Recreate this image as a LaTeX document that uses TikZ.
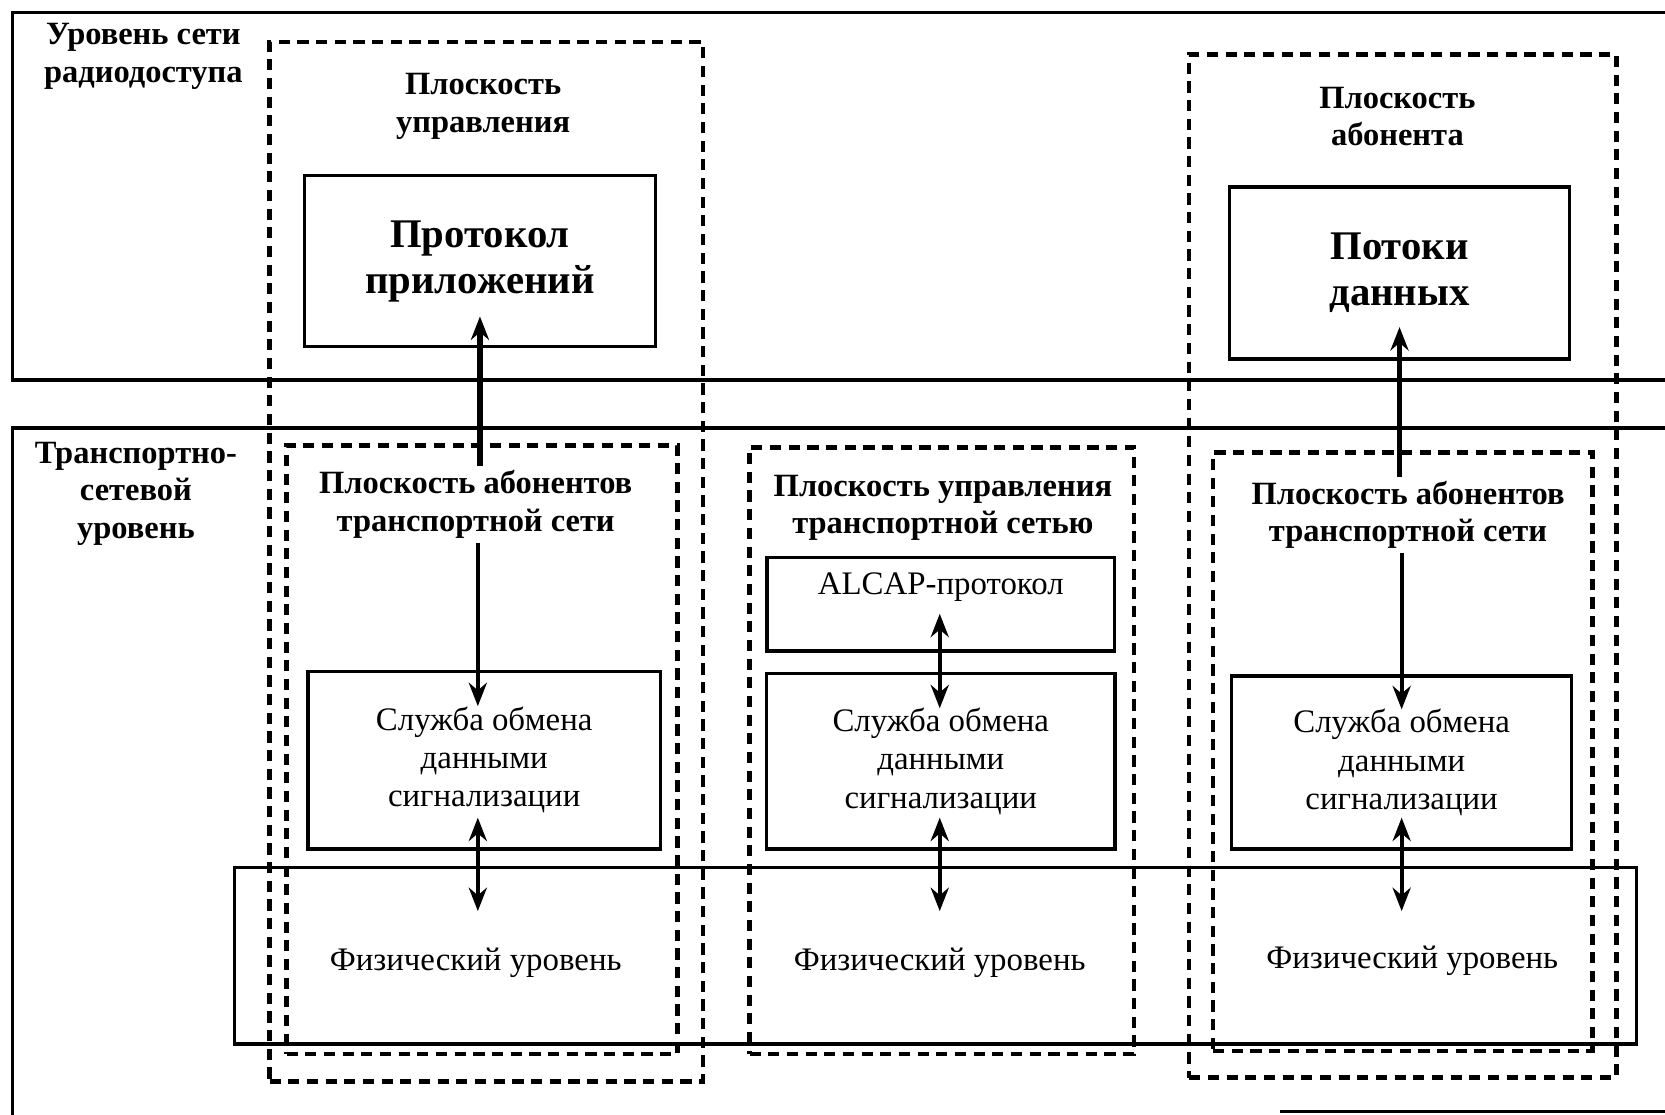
\documentclass[tikz,border=0pt]{standalone}
\usepackage{fontspec}
\setmainfont{Liberation Serif}
\usetikzlibrary{arrows.meta, positioning}

\tikzset{
  plane/.style={draw, line width=1.2pt, dash pattern=on 3pt off 2pt, inner sep=0pt},
  block/.style={draw, line width=0.9pt, inner sep=0pt, align=center,
    font=\fontsize{8.8}{10.2}\selectfont},
  bigblock/.style={block, font=\fontsize{10.9}{12.2}\selectfont\bfseries},
  title/.style={align=center, inner sep=1pt, font=\fontsize{8.7}{10}\selectfont\bfseries},
  plain/.style={align=center, inner sep=1pt, font=\fontsize{8.8}{10.2}\selectfont},
  tip/.tip={Stealth[length=2.2mm,width=1.7mm]},
  link/.style={line width=1.1pt, -tip},
  twoway/.style={line width=1.1pt, tip-tip},
}

\begin{document}
\begin{tikzpicture}[x=0.01cm, y=-0.01cm]
  \useasboundingbox (0,0) rectangle (1568,1050);

  % levels
  \draw[line width=0.9pt] (1568,12) -| (12,358) -- (1568,358);
  \draw[line width=0.9pt] (1568,403) -| (12,1050);
  \draw[line width=0.9pt] (1205,1047) -- (1568,1047);
  \node[title] (radio)     at (135,53)  {Уровень сети\\радиодоступа};
  \node[title] (transport) at (128,465) {Транспортно-\\сетевой\\уровень};

  % planes
  \node[plane, minimum width=4.08cm, minimum height=9.78cm] (ctrl)  at (458,529)   {};
  \node[plane, minimum width=4.02cm, minimum height=9.63cm] (user)  at (1321,533)  {};
  \node[plane, minimum width=3.68cm, minimum height=5.73cm] (tnA)   at (454,706)   {};
  \node[plane, minimum width=3.62cm, minimum height=5.71cm] (tnC)   at (887,707)   {};
  \node[plane, minimum width=3.57cm, minimum height=5.63cm] (tnE)   at (1321,708)  {};

  \node[title] (ctrlT) at (455,100)  {Плоскость\\управления};
  \node[title] (userT) at (1316,110) {Плоскость\\абонента};
  \node[title] (tnAT)  at (448,475)  {Плоскость абонентов\\транспортной сети};
  \node[title] (tnCT)  at (888,478)  {Плоскость управления\\транспортной сетью};
  \node[title] (tnET)  at (1326,485) {Плоскость абонентов\\транспортной сети};

  % blocks
  \node[bigblock, minimum width=3.30cm, minimum height=1.61cm] (proto) at (452,246)  {Протокол\\приложений};
  \node[bigblock, minimum width=3.20cm, minimum height=1.62cm] (flows) at (1318,257) {Потоки\\данных};
  \node[block, minimum width=3.32cm, minimum height=1.67cm] (sigA)  at (456,716)  {Служба обмена\\данными\\сигнализации};
  \node[block, minimum width=3.27cm, minimum height=0.88cm] (alcap) at (886,569)  {};
  \node[plain] (alcapT) at (886,553) {ALCAP-протокол};
  \node[block, minimum width=3.28cm, minimum height=1.65cm] (sigC)  at (886,717)  {Служба обмена\\данными\\сигнализации};
  \node[block, minimum width=3.20cm, minimum height=1.63cm] (sigE)  at (1320,718) {Служба обмена\\данными\\сигнализации};

  \node[block, minimum width=13.20cm, minimum height=1.66cm] (phys) at (881,900) {};
  \node[plain] (physA) at (448,907)  {Физический уровень};
  \node[plain] (physC) at (885,907)  {Физический уровень};
  \node[plain] (physE) at (1330,905) {Физический уровень};

  % arrow ends
  \coordinate (upA)   at (452,298);
  \coordinate (dnA)   at (450,665);
  \coordinate (sA)    at (450,770);
  \coordinate (pA)    at (450,858);
  \coordinate (alC)   at (885,578);
  \coordinate (dnC)   at (885,667);
  \coordinate (sC)    at (885,770);
  \coordinate (pC)    at (885,858);
  \coordinate (upE)   at (1318,308);
  \coordinate (dnE)   at (1320,668);
  \coordinate (sE)    at (1320,770);
  \coordinate (pE)    at (1320,858);

  \draw[link, line width=1.5pt] (tnAT.north -| upA) -- (upA);
  \draw[link] (tnAT.south -| dnA) -- (dnA);
  \draw[twoway] (sA) -- (pA);
  \draw[twoway] (alC) -- (dnC);
  \draw[twoway] (sC) -- (pC);
  \draw[link, line width=1.5pt] (tnET.north -| upE) -- (upE);
  \draw[link] (tnET.south -| dnE) -- (dnE);
  \draw[twoway] (sE) -- (pE);
\end{tikzpicture}
\end{document}
